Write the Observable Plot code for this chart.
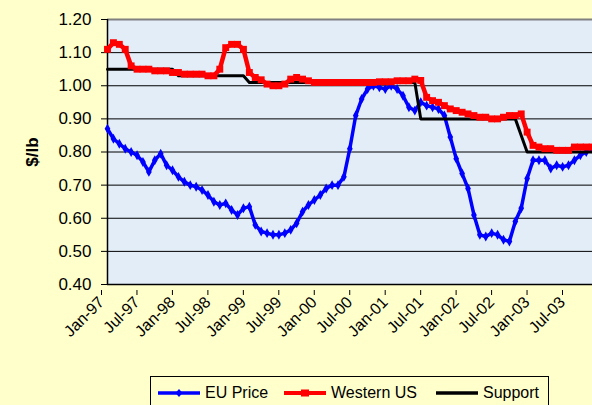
<!DOCTYPE html>
<html><head><meta charset="utf-8">
<script src="https://cdn.jsdelivr.net/npm/d3@7"></script>
<script src="https://cdn.jsdelivr.net/npm/@observablehq/plot@0.6"></script>
<style>
html,body{margin:0;padding:0;background:#FFFFCC;width:592px;height:405px;overflow:hidden;font-family:Arial,"Liberation Sans",sans-serif;}
#wrap{position:relative;width:592px;height:405px;}
#chart svg{display:block;background:transparent;}
#legend{position:absolute;left:150px;top:376px;width:399px;height:40px;border:1px solid #000;background:#FFFFCC;box-sizing:border-box;}
.item{position:absolute;top:7px;font-size:16px;line-height:18px;display:flex;align-items:center;color:#000;white-space:nowrap;}
.item svg{margin-right:5px;}
g[aria-label="y-axis label"] text{font-weight:bold;}
</style></head>
<body>
<div id="wrap"><div id="chart"></div><div id="legend"></div></div>
<script>
const tickLabels = ["Jan-97","Jul-97","Jan-98","Jul-98","Jan-99","Jul-99","Jan-00","Jul-00","Jan-01","Jul-01","Jan-02","Jul-02","Jan-03","Jul-03"];
const yTicks = [0.40,0.50,0.60,0.70,0.80,0.90,1.00,1.10,1.20];
const euPrice = [
0.87,0.84,0.825,0.81,0.80,0.79,0.77,0.74,0.775,0.795,
0.76,0.745,0.725,0.71,0.70,0.695,0.685,0.67,0.65,0.64,
0.645,0.625,0.61,0.63,0.635,0.58,0.56,0.555,0.55,0.55,
0.555,0.565,0.585,0.62,0.64,0.655,0.67,0.69,0.70,0.70,
0.725,0.81,0.91,0.96,0.99,1.00,0.995,0.99,1.00,0.99,
0.97,0.935,0.925,0.95,0.94,0.935,0.93,0.91,0.845,0.78,
0.735,0.69,0.61,0.55,0.545,0.555,0.55,0.535,0.53,0.59,
0.63,0.72,0.775,0.775,0.775,0.75,0.76,0.755,0.76,0.775,
0.79,0.80,0.81];
const westernUS = [
1.11,1.13,1.125,1.11,1.06,1.05,1.05,1.05,1.045,1.045,
1.045,1.04,1.04,1.035,1.035,1.035,1.035,1.03,1.03,1.05,
1.115,1.125,1.125,1.11,1.04,1.025,1.018,1.005,1.00,1.00,
1.005,1.02,1.025,1.02,1.015,1.01,1.01,1.01,1.01,1.01,
1.01,1.01,1.01,1.01,1.01,1.01,1.012,1.012,1.012,1.015,
1.015,1.015,1.02,1.016,0.965,0.955,0.95,0.94,0.93,0.925,
0.92,0.915,0.91,0.905,0.905,0.90,0.90,0.905,0.91,0.91,
0.915,0.86,0.82,0.815,0.81,0.81,0.805,0.805,0.805,0.815,
0.815,0.815,0.815];
const support = [
1.05,1.05,1.05,1.05,1.05,1.05,1.05,1.05,1.05,1.05,
1.05,1.05,1.03,1.03,1.03,1.03,1.03,1.03,1.03,1.03,
1.03,1.03,1.03,1.03,1.01,1.01,1.01,1.01,1.01,1.01,
1.01,1.01,1.01,1.01,1.01,1.01,1.01,1.01,1.01,1.01,
1.01,1.01,1.01,1.01,1.01,1.01,1.01,1.01,1.01,1.01,
1.01,1.01,1.01,0.90,0.90,0.90,0.90,0.90,0.90,0.90,
0.90,0.90,0.90,0.90,0.90,0.90,0.90,0.90,0.90,0.90,
0.85,0.80,0.80,0.80,0.80,0.80,0.80,0.80,0.80,0.80,
0.80,0.80,0.80];

const toRows = arr => arr.map((v, i) => ({i, v}));
const eu = toRows(euPrice), wus = toRows(westernUS), sup = toRows(support);
const tickIdx = tickLabels.map((_, k) => k * 6);

const chart = Plot.plot({
  width: 592, height: 372,
  marginLeft: 107, marginRight: 0, marginTop: 19, marginBottom: 88,
  style: {fontFamily: "Arial, 'Liberation Sans', sans-serif", background: "transparent", color: "#000"},
  x: {type: "linear", domain: [0, 82.06]},
  y: {domain: [0.4, 1.2]},
  marks: [
    Plot.frame({fill: "#E2EDF8", stroke: null}),
    Plot.ruleY(yTicks.filter(v => v < 1.19), {stroke: "#000", strokeWidth: 1}),
    Plot.ruleY([1.2], {stroke: "#808080", strokeWidth: 2}),
    Plot.ruleX([0], {stroke: "#000", strokeWidth: 1.5}),
    Plot.axisY({ticks: yTicks, tickFormat: d3.format(".2f"), tickSize: 6, tickPadding: 10, fontSize: 17,
      label: "$/lb", labelAnchor: "center", labelArrow: "none", labelOffset: 82}),
    Plot.axisX({ticks: tickIdx, tickFormat: i => tickLabels[Math.round(i / 6)], tickRotate: -45, tickSize: 5, tickPadding: 4, fontSize: 16, label: null, dx: -6, dy: 6}),
    Plot.line(eu, {x: "i", y: "v", stroke: "#0000FF", strokeWidth: 3.5}),
    Plot.dot(eu, {x: "i", y: "v", symbol: "diamond", fill: "#0000FF", r: 3}),
    Plot.line(sup, {x: "i", y: "v", stroke: "#000", strokeWidth: 3}),
    Plot.line(wus, {x: "i", y: "v", stroke: "#FF0000", strokeWidth: 4.5}),
    Plot.dot(wus, {x: "i", y: "v", symbol: "square", fill: "#FF0000", r: 3.9}),
    Plot.ruleY([0.4], {stroke: "#000", strokeWidth: 1.5})
  ]
});
document.getElementById("chart").appendChild(chart);

const legendItems = [
  {label: "EU Price", color: "#0000FF", marker: "diamond", left: 7},
  {label: "Western US", color: "#FF0000", marker: "square", left: 133},
  {label: "Support", color: "#000000", marker: null, left: 285}
];
const lg = document.getElementById("legend");
for (const it of legendItems) {
  const d = document.createElement("div");
  d.className = "item";
  d.style.left = it.left + "px";
  let m = "";
  if (it.marker === "diamond") m = `<path d="M21,1 L24.5,5 L21,9 L17.5,5 Z" fill="${it.color}"/>`;
  if (it.marker === "square") m = `<rect x="17" y="1.5" width="8" height="7" fill="${it.color}"/>`;
  d.innerHTML = `<svg width="42" height="10"><line x1="0" x2="42" y1="5" y2="5" stroke="${it.color}" stroke-width="${it.color === '#FF0000' ? 4 : 3.5}"/>${m}</svg><span>${it.label}</span>`;
  lg.appendChild(d);
}
</script>
</body></html>
